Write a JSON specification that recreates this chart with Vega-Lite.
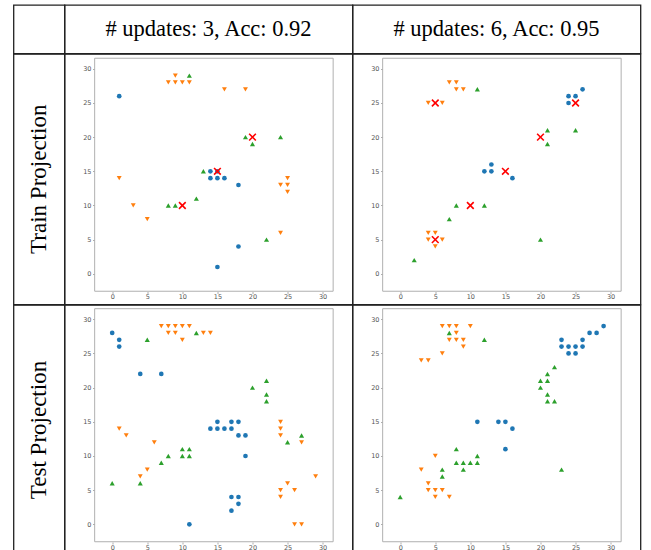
{
  "$schema": "https://vega.github.io/schema/vega-lite/v6.json",
  "padding": {"left": 12.5, "top": 4, "right": 0, "bottom": 0},
  "background": "white",
  "spacing": 0,
  "bounds": "flush",
  "columns": 3,
  "datasets": {
    "frame": [{"x": -2.5, "y": -2.55, "x2": 31.5, "y2": 31.55}],
    "pts": [
      {"p":1,"c":"A","x":1,"y":26},{"p":1,"c":"A","x":14,"y":15},{"p":1,"c":"A","x":15,"y":15},{"p":1,"c":"A","x":14,"y":14},{"p":1,"c":"A","x":15,"y":14},{"p":1,"c":"A","x":16,"y":14},{"p":1,"c":"A","x":18,"y":13},{"p":1,"c":"A","x":18,"y":4},{"p":1,"c":"A","x":15,"y":1},
      {"p":1,"c":"B","x":8,"y":28},{"p":1,"c":"B","x":9,"y":28},{"p":1,"c":"B","x":10,"y":28},{"p":1,"c":"B","x":11,"y":28},{"p":1,"c":"B","x":9,"y":29},{"p":1,"c":"B","x":16,"y":27},{"p":1,"c":"B","x":19,"y":27},{"p":1,"c":"B","x":1,"y":14},{"p":1,"c":"B","x":3,"y":10},{"p":1,"c":"B","x":5,"y":8},{"p":1,"c":"B","x":24,"y":13},{"p":1,"c":"B","x":25,"y":14},{"p":1,"c":"B","x":25,"y":13},{"p":1,"c":"B","x":25,"y":12},{"p":1,"c":"B","x":24,"y":6},
      {"p":1,"c":"C","x":11,"y":29},{"p":1,"c":"C","x":19,"y":20},{"p":1,"c":"C","x":20,"y":19},{"p":1,"c":"C","x":24,"y":20},{"p":1,"c":"C","x":13,"y":15},{"p":1,"c":"C","x":12,"y":11},{"p":1,"c":"C","x":8,"y":10},{"p":1,"c":"C","x":9,"y":10},{"p":1,"c":"C","x":22,"y":5},
      {"p":1,"c":"X","x":10,"y":10},{"p":1,"c":"X","x":15,"y":15},{"p":1,"c":"X","x":20,"y":20},
      {"p":2,"c":"A","x":24,"y":26},{"p":2,"c":"A","x":25,"y":26},{"p":2,"c":"A","x":26,"y":27},{"p":2,"c":"A","x":24,"y":25},{"p":2,"c":"A","x":12,"y":15},{"p":2,"c":"A","x":13,"y":16},{"p":2,"c":"A","x":13,"y":15},{"p":2,"c":"A","x":16,"y":14},
      {"p":2,"c":"B","x":7,"y":28},{"p":2,"c":"B","x":8,"y":28},{"p":2,"c":"B","x":8,"y":27},{"p":2,"c":"B","x":9,"y":27},{"p":2,"c":"B","x":4,"y":25},{"p":2,"c":"B","x":6,"y":25},{"p":2,"c":"B","x":4,"y":6},{"p":2,"c":"B","x":5,"y":6},{"p":2,"c":"B","x":4,"y":5},{"p":2,"c":"B","x":6,"y":5},{"p":2,"c":"B","x":5,"y":4},
      {"p":2,"c":"C","x":11,"y":27},{"p":2,"c":"C","x":21,"y":21},{"p":2,"c":"C","x":25,"y":21},{"p":2,"c":"C","x":21,"y":19},{"p":2,"c":"C","x":8,"y":10},{"p":2,"c":"C","x":12,"y":10},{"p":2,"c":"C","x":7,"y":8},{"p":2,"c":"C","x":20,"y":5},{"p":2,"c":"C","x":2,"y":2},
      {"p":2,"c":"X","x":5,"y":25},{"p":2,"c":"X","x":25,"y":25},{"p":2,"c":"X","x":20,"y":20},{"p":2,"c":"X","x":15,"y":15},{"p":2,"c":"X","x":10,"y":10},{"p":2,"c":"X","x":5,"y":5},
      {"p":3,"c":"A","x":0,"y":28},{"p":3,"c":"A","x":1,"y":27},{"p":3,"c":"A","x":1,"y":26},{"p":3,"c":"A","x":4,"y":22},{"p":3,"c":"A","x":7,"y":22},{"p":3,"c":"A","x":15,"y":15},{"p":3,"c":"A","x":17,"y":15},{"p":3,"c":"A","x":18,"y":15},{"p":3,"c":"A","x":14,"y":14},{"p":3,"c":"A","x":15,"y":14},{"p":3,"c":"A","x":16,"y":14},{"p":3,"c":"A","x":17,"y":14},{"p":3,"c":"A","x":18,"y":13},{"p":3,"c":"A","x":19,"y":13},{"p":3,"c":"A","x":19,"y":10},{"p":3,"c":"A","x":17,"y":4},{"p":3,"c":"A","x":18,"y":4},{"p":3,"c":"A","x":18,"y":3},{"p":3,"c":"A","x":17,"y":2},{"p":3,"c":"A","x":11,"y":0},
      {"p":3,"c":"B","x":7,"y":29},{"p":3,"c":"B","x":8,"y":29},{"p":3,"c":"B","x":9,"y":29},{"p":3,"c":"B","x":10,"y":29},{"p":3,"c":"B","x":11,"y":29},{"p":3,"c":"B","x":8,"y":28},{"p":3,"c":"B","x":9,"y":28},{"p":3,"c":"B","x":13,"y":28},{"p":3,"c":"B","x":14,"y":28},{"p":3,"c":"B","x":10,"y":27},{"p":3,"c":"B","x":1,"y":14},{"p":3,"c":"B","x":2,"y":13},{"p":3,"c":"B","x":6,"y":12},{"p":3,"c":"B","x":5,"y":8},{"p":3,"c":"B","x":4,"y":7},{"p":3,"c":"B","x":24,"y":15},{"p":3,"c":"B","x":24,"y":14},{"p":3,"c":"B","x":24,"y":13},{"p":3,"c":"B","x":27,"y":12},{"p":3,"c":"B","x":29,"y":7},{"p":3,"c":"B","x":25,"y":6},{"p":3,"c":"B","x":24,"y":5},{"p":3,"c":"B","x":26,"y":5},{"p":3,"c":"B","x":24,"y":4},{"p":3,"c":"B","x":26,"y":0},{"p":3,"c":"B","x":27,"y":0},
      {"p":3,"c":"C","x":5,"y":27},{"p":3,"c":"C","x":12,"y":28},{"p":3,"c":"C","x":20,"y":20},{"p":3,"c":"C","x":22,"y":21},{"p":3,"c":"C","x":22,"y":19},{"p":3,"c":"C","x":22,"y":18},{"p":3,"c":"C","x":27,"y":13},{"p":3,"c":"C","x":25,"y":12},{"p":3,"c":"C","x":10,"y":11},{"p":3,"c":"C","x":11,"y":11},{"p":3,"c":"C","x":10,"y":10},{"p":3,"c":"C","x":11,"y":10},{"p":3,"c":"C","x":8,"y":10},{"p":3,"c":"C","x":7,"y":9},{"p":3,"c":"C","x":0,"y":6},{"p":3,"c":"C","x":4,"y":6},
      {"p":4,"c":"A","x":29,"y":29},{"p":4,"c":"A","x":27,"y":28},{"p":4,"c":"A","x":28,"y":28},{"p":4,"c":"A","x":23,"y":27},{"p":4,"c":"A","x":26,"y":27},{"p":4,"c":"A","x":23,"y":26},{"p":4,"c":"A","x":24,"y":26},{"p":4,"c":"A","x":25,"y":26},{"p":4,"c":"A","x":26,"y":26},{"p":4,"c":"A","x":24,"y":25},{"p":4,"c":"A","x":25,"y":25},{"p":4,"c":"A","x":11,"y":15},{"p":4,"c":"A","x":14,"y":15},{"p":4,"c":"A","x":15,"y":15},{"p":4,"c":"A","x":16,"y":14},{"p":4,"c":"A","x":15,"y":11},
      {"p":4,"c":"B","x":6,"y":29},{"p":4,"c":"B","x":7,"y":29},{"p":4,"c":"B","x":8,"y":29},{"p":4,"c":"B","x":10,"y":29},{"p":4,"c":"B","x":8,"y":28},{"p":4,"c":"B","x":7,"y":27},{"p":4,"c":"B","x":8,"y":27},{"p":4,"c":"B","x":9,"y":27},{"p":4,"c":"B","x":9,"y":26},{"p":4,"c":"B","x":6,"y":25},{"p":4,"c":"B","x":3,"y":24},{"p":4,"c":"B","x":4,"y":24},{"p":4,"c":"B","x":5,"y":10},{"p":4,"c":"B","x":3,"y":8},{"p":4,"c":"B","x":4,"y":6},{"p":4,"c":"B","x":4,"y":5},{"p":4,"c":"B","x":5,"y":5},{"p":4,"c":"B","x":6,"y":5},{"p":4,"c":"B","x":5,"y":4},{"p":4,"c":"B","x":7,"y":4},
      {"p":4,"c":"C","x":7,"y":28},{"p":4,"c":"C","x":12,"y":27},{"p":4,"c":"C","x":22,"y":23},{"p":4,"c":"C","x":21,"y":22},{"p":4,"c":"C","x":20,"y":21},{"p":4,"c":"C","x":21,"y":21},{"p":4,"c":"C","x":20,"y":20},{"p":4,"c":"C","x":21,"y":19},{"p":4,"c":"C","x":21,"y":18},{"p":4,"c":"C","x":22,"y":18},{"p":4,"c":"C","x":8,"y":11},{"p":4,"c":"C","x":11,"y":10},{"p":4,"c":"C","x":8,"y":9},{"p":4,"c":"C","x":9,"y":9},{"p":4,"c":"C","x":10,"y":9},{"p":4,"c":"C","x":11,"y":9},{"p":4,"c":"C","x":9,"y":8},{"p":4,"c":"C","x":6,"y":8},{"p":4,"c":"C","x":6,"y":7},{"p":4,"c":"C","x":0,"y":4},{"p":4,"c":"C","x":23,"y":8}
    ]
  },
  "concat": [
    {"width": 51, "height": 48.5, "data": {"values": [{"t": ""}]}, "mark": {"type": "text"},
     "encoding": {"text": {"field": "t"}, "x": {"datum": 0.5, "type": "quantitative", "scale": {"domain": [0, 1]}, "axis": null}, "y": {"datum": 0.5, "type": "quantitative", "scale": {"domain": [0, 1]}, "axis": null}}},
    {"width": 288, "height": 48.5, "data": {"values": [{"t": "# updates: 3, Acc: 0.92"}]}, "mark": {"type": "text", "font": "Liberation Serif", "fontSize": 22.5, "color": "black", "baseline": "middle", "align": "center"},
     "encoding": {"text": {"field": "t"}, "x": {"datum": 0.5, "type": "quantitative", "scale": {"domain": [0, 1]}, "axis": null}, "y": {"datum": 0.5, "type": "quantitative", "scale": {"domain": [0, 1]}, "axis": null}}},
    {"width": 288, "height": 48.5, "data": {"values": [{"t": "# updates: 6, Acc: 0.95"}]}, "mark": {"type": "text", "font": "Liberation Serif", "fontSize": 22.5, "color": "black", "baseline": "middle", "align": "center"},
     "encoding": {"text": {"field": "t"}, "x": {"datum": 0.5, "type": "quantitative", "scale": {"domain": [0, 1]}, "axis": null}, "y": {"datum": 0.5, "type": "quantitative", "scale": {"domain": [0, 1]}, "axis": null}}},
    {"width": 51, "height": 250.5, "data": {"values": [{"t": "Train Projection"}]}, "mark": {"type": "text", "font": "Liberation Serif", "fontSize": 23, "color": "black", "baseline": "middle", "align": "center", "angle": 270},
     "encoding": {"text": {"field": "t"}, "x": {"datum": 0.5, "type": "quantitative", "scale": {"domain": [0, 1]}, "axis": null}, "y": {"datum": 0.5, "type": "quantitative", "scale": {"domain": [0, 1]}, "axis": null}}},
    {
      "width": 288, "height": 250.5,
      "encoding": {
        "x": {"field": "x", "type": "quantitative", "scale": {"domain": [-6.8, 34.26], "nice": false, "zero": false}, "axis": {"values": [0,5,10,15,20,25,30], "title": null}},
        "y": {"field": "y", "type": "quantitative", "scale": {"domain": [-4.49, 32.17], "nice": false, "zero": false}, "axis": {"values": [0,5,10,15,20,25,30], "title": null}}
      },
      "layer": [
        {"data": {"name": "frame"}, "mark": {"type": "rect", "filled": false, "color": "#b0b0b0", "strokeWidth": 1}, "encoding": {"x2": {"field": "x2"}, "y2": {"field": "y2"}}},
        {"data": {"name": "pts"}, "transform": [{"filter": "datum.p == 1 && datum.c != 'X'"}], "mark": {"type": "point", "filled": true, "opacity": 1},
         "encoding": {"color": {"field": "c", "type": "nominal", "scale": {"domain": ["A","B","C"], "range": ["#1f77b4","#ff7f0e","#2ca02c"]}, "legend": null},
                      "shape": {"field": "c", "type": "nominal", "scale": {"domain": ["A","B","C"], "range": ["circle","triangle-down","triangle-up"]}, "legend": null},
                      "size": {"field": "c", "type": "nominal", "scale": {"domain": ["A","B","C"], "range": [22,26,26]}, "legend": null}}},
        {"data": {"name": "pts"}, "transform": [{"filter": "datum.p == 1 && datum.c == 'X'"}], "mark": {"type": "point", "filled": false, "shape": "M-1,-1L1,1M1,-1L-1,1", "color": "#ff0000", "size": 45, "strokeWidth": 1.6, "opacity": 1}}
      ]
    },
    {
      "width": 288, "height": 250.5,
      "encoding": {
        "x": {"field": "x", "type": "quantitative", "scale": {"domain": [-6.8, 34.26], "nice": false, "zero": false}, "axis": {"values": [0,5,10,15,20,25,30], "title": null}},
        "y": {"field": "y", "type": "quantitative", "scale": {"domain": [-4.49, 32.17], "nice": false, "zero": false}, "axis": {"values": [0,5,10,15,20,25,30], "title": null}}
      },
      "layer": [
        {"data": {"name": "frame"}, "mark": {"type": "rect", "filled": false, "color": "#b0b0b0", "strokeWidth": 1}, "encoding": {"x2": {"field": "x2"}, "y2": {"field": "y2"}}},
        {"data": {"name": "pts"}, "transform": [{"filter": "datum.p == 2 && datum.c != 'X'"}], "mark": {"type": "point", "filled": true, "opacity": 1},
         "encoding": {"color": {"field": "c", "type": "nominal", "scale": {"domain": ["A","B","C"], "range": ["#1f77b4","#ff7f0e","#2ca02c"]}, "legend": null},
                      "shape": {"field": "c", "type": "nominal", "scale": {"domain": ["A","B","C"], "range": ["circle","triangle-down","triangle-up"]}, "legend": null},
                      "size": {"field": "c", "type": "nominal", "scale": {"domain": ["A","B","C"], "range": [22,26,26]}, "legend": null}}},
        {"data": {"name": "pts"}, "transform": [{"filter": "datum.p == 2 && datum.c == 'X'"}], "mark": {"type": "point", "filled": false, "shape": "M-1,-1L1,1M1,-1L-1,1", "color": "#ff0000", "size": 45, "strokeWidth": 1.6, "opacity": 1}}
      ]
    },
    {"width": 51, "height": 250, "data": {"values": [{"t": "Test Projection"}]}, "mark": {"type": "text", "font": "Liberation Serif", "fontSize": 23, "color": "black", "baseline": "middle", "align": "center", "angle": 270},
     "encoding": {"text": {"field": "t"}, "x": {"datum": 0.5, "type": "quantitative", "scale": {"domain": [0, 1]}, "axis": null}, "y": {"datum": 0.5, "type": "quantitative", "scale": {"domain": [0, 1]}, "axis": null}}},
    {
      "width": 288, "height": 250,
      "encoding": {
        "x": {"field": "x", "type": "quantitative", "scale": {"domain": [-6.8, 34.26], "nice": false, "zero": false}, "axis": {"values": [0,5,10,15,20,25,30], "title": null}},
        "y": {"field": "y", "type": "quantitative", "scale": {"domain": [-4.49, 32.09], "nice": false, "zero": false}, "axis": {"values": [0,5,10,15,20,25,30], "title": null}}
      },
      "layer": [
        {"data": {"name": "frame"}, "mark": {"type": "rect", "filled": false, "color": "#b0b0b0", "strokeWidth": 1}, "encoding": {"x2": {"field": "x2"}, "y2": {"field": "y2"}}},
        {"data": {"name": "pts"}, "transform": [{"filter": "datum.p == 3"}], "mark": {"type": "point", "filled": true, "opacity": 1},
         "encoding": {"color": {"field": "c", "type": "nominal", "scale": {"domain": ["A","B","C"], "range": ["#1f77b4","#ff7f0e","#2ca02c"]}, "legend": null},
                      "shape": {"field": "c", "type": "nominal", "scale": {"domain": ["A","B","C"], "range": ["circle","triangle-down","triangle-up"]}, "legend": null},
                      "size": {"field": "c", "type": "nominal", "scale": {"domain": ["A","B","C"], "range": [22,26,26]}, "legend": null}}}
      ]
    },
    {
      "width": 288, "height": 250,
      "encoding": {
        "x": {"field": "x", "type": "quantitative", "scale": {"domain": [-6.8, 34.26], "nice": false, "zero": false}, "axis": {"values": [0,5,10,15,20,25,30], "title": null}},
        "y": {"field": "y", "type": "quantitative", "scale": {"domain": [-4.49, 32.09], "nice": false, "zero": false}, "axis": {"values": [0,5,10,15,20,25,30], "title": null}}
      },
      "layer": [
        {"data": {"name": "frame"}, "mark": {"type": "rect", "filled": false, "color": "#b0b0b0", "strokeWidth": 1}, "encoding": {"x2": {"field": "x2"}, "y2": {"field": "y2"}}},
        {"data": {"name": "pts"}, "transform": [{"filter": "datum.p == 4"}], "mark": {"type": "point", "filled": true, "opacity": 1},
         "encoding": {"color": {"field": "c", "type": "nominal", "scale": {"domain": ["A","B","C"], "range": ["#1f77b4","#ff7f0e","#2ca02c"]}, "legend": null},
                      "shape": {"field": "c", "type": "nominal", "scale": {"domain": ["A","B","C"], "range": ["circle","triangle-down","triangle-up"]}, "legend": null},
                      "size": {"field": "c", "type": "nominal", "scale": {"domain": ["A","B","C"], "range": [22,26,26]}, "legend": null}}}
      ]
    }
  ],
  "resolve": {"scale": {"x": "independent", "y": "independent"}},
  "config": {
    "view": {"stroke": "#222222", "strokeWidth": 1.3},
    "axis": {"domain": false, "grid": false, "ticks": true, "tickSize": 2, "tickColor": "#999999", "tickWidth": 0.8, "labelFontSize": 6.5, "labelColor": "#555555", "labelFont": "DejaVu Sans", "labelFlush": false, "labelOverlap": false},
    "axisX": {"offset": -13, "labelPadding": 0},
    "axisY": {"offset": -30, "labelPadding": 1.5}
  }
}
